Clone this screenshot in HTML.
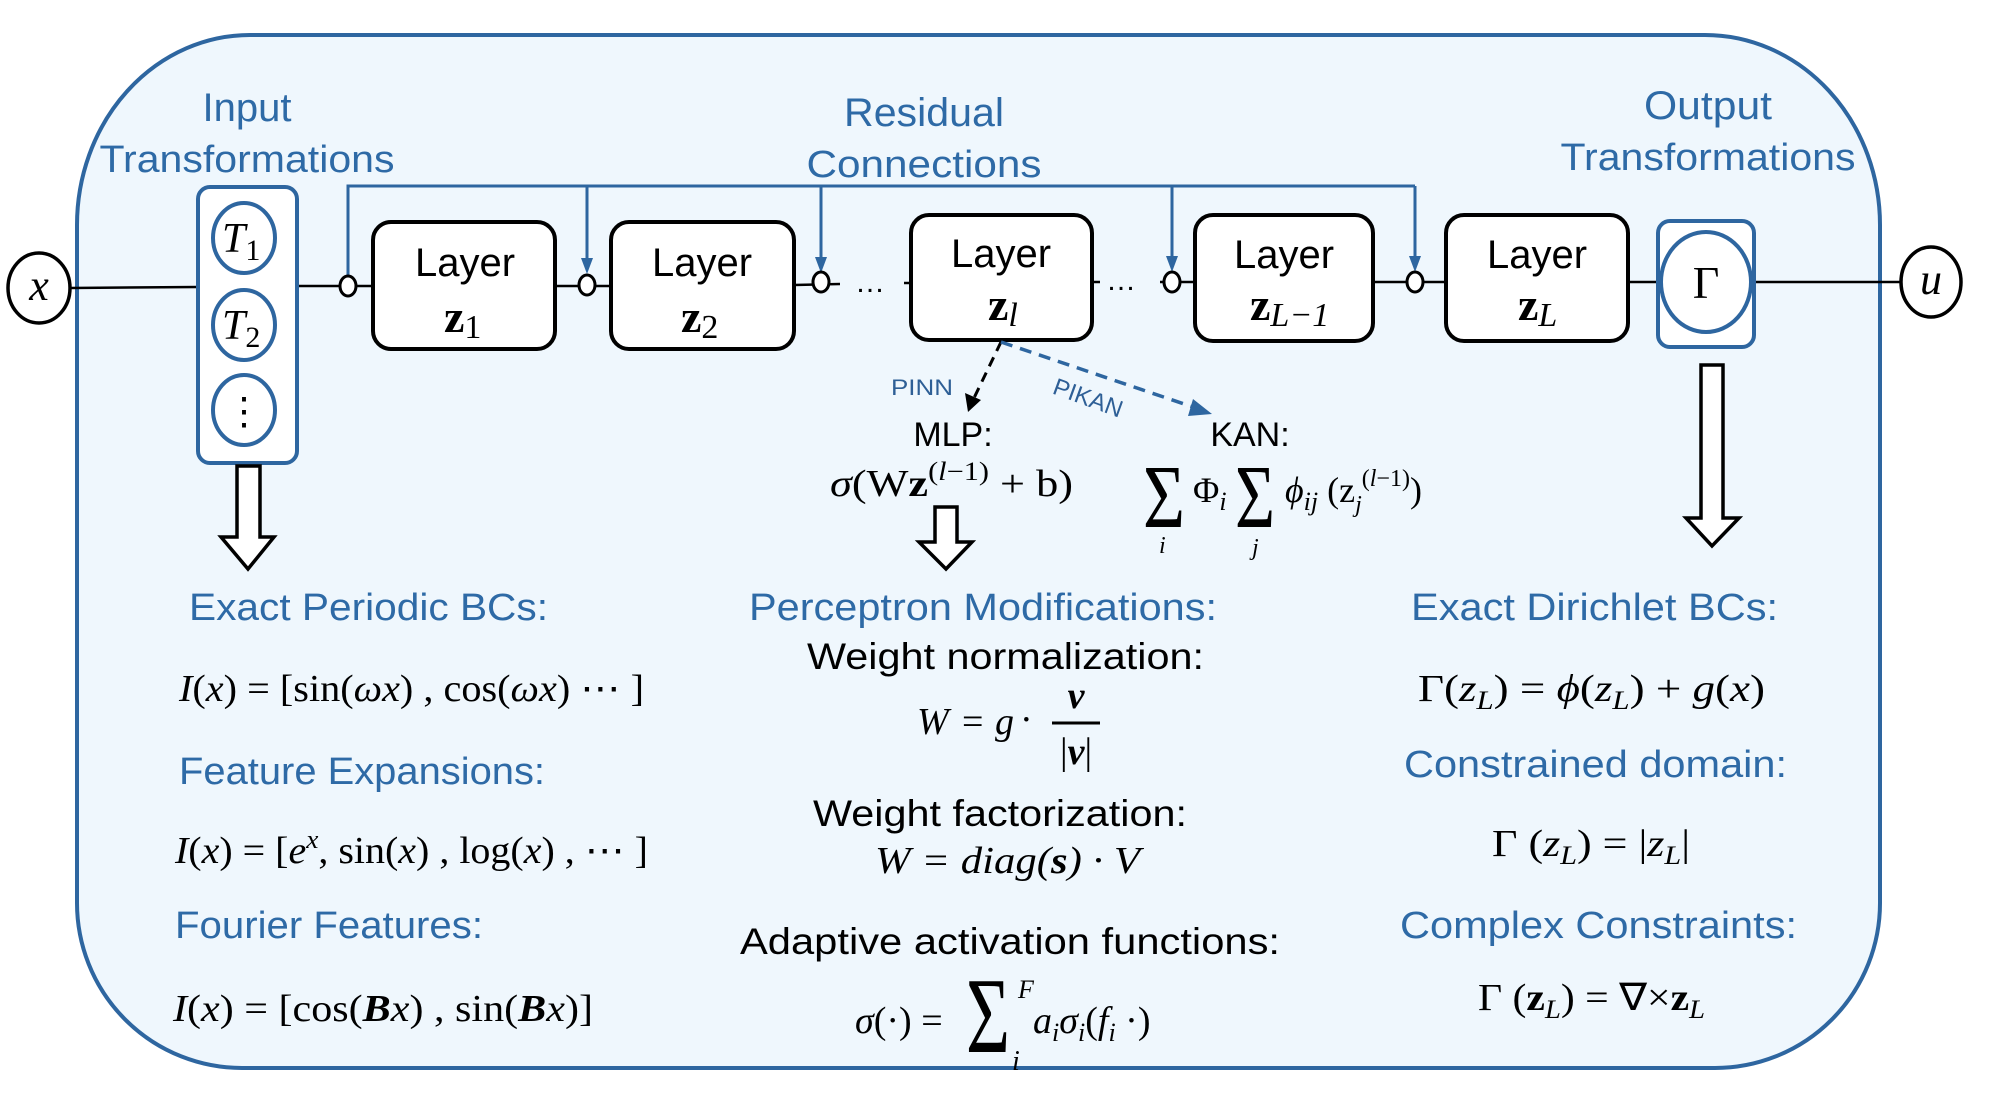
<!DOCTYPE html>
<html><head><meta charset="utf-8"><style>
html,body{margin:0;padding:0;background:#fff;}
svg{display:block;font-size:36px;}
.h{font-family:"Liberation Sans",sans-serif;fill:#2e6aa6;}
.b{font-family:"Liberation Sans",sans-serif;fill:#000;}
.m{font-family:"Liberation Serif",serif;fill:#000;}
.i{font-style:italic;}
</style></head><body>
<svg width="2000" height="1102" viewBox="0 0 2000 1102" xmlns="http://www.w3.org/2000/svg">
<!-- outer box -->
<path d="M250,35 L1705,35 A175,190 0 0 1 1880,225 L1880,903 A165,165 0 0 1 1715,1068 L242,1068 A165,165 0 0 1 77,903 L77,225 A173,190 0 0 1 250,35 Z" fill="#eff7fd" stroke="#2e66a0" stroke-width="4"/>

<!-- main line -->
<g stroke="#000" stroke-width="2.5" fill="none">
<line x1="70" y1="288" x2="198" y2="287"/>
<line x1="297" y1="286" x2="373" y2="286"/>
<line x1="555" y1="286" x2="611" y2="286"/>
<line x1="794" y1="285" x2="840" y2="284"/>
<line x1="904" y1="283" x2="911" y2="283"/>
<line x1="1092" y1="282" x2="1100" y2="282"/>
<line x1="1160" y1="282" x2="1195" y2="282"/>
<line x1="1373" y1="282" x2="1446" y2="282"/>
<line x1="1628" y1="282" x2="1658" y2="282"/>
<line x1="1754" y1="282" x2="1900" y2="282"/>
</g>
<text x="855" y="292" class="b" font-size="30">…</text>
<text x="1106" y="290" class="b" font-size="30">…</text>

<!-- residual -->
<g stroke="#2e66a0" stroke-width="3" fill="none">
<polyline points="348,277 348,186 1415,186"/>
<line x1="587" y1="186" x2="587" y2="262"/>
<line x1="821" y1="186" x2="821" y2="261"/>
<line x1="1172" y1="186" x2="1172" y2="260"/>
<line x1="1415" y1="186" x2="1415" y2="260"/>
</g>
<g fill="#2e66a0">
<path d="M581,258 L593,258 L587,274 Z"/>
<path d="M815,257 L827,257 L821,273 Z"/>
<path d="M1166,256 L1178,256 L1172,272 Z"/>
<path d="M1409,256 L1421,256 L1415,272 Z"/>
</g>
<g fill="#fff" stroke="#000" stroke-width="3">
<ellipse cx="348" cy="286" rx="8" ry="10"/>
<ellipse cx="587" cy="285" rx="8" ry="10"/>
<ellipse cx="821" cy="282" rx="8" ry="10"/>
<ellipse cx="1172" cy="282" rx="8" ry="10"/>
<ellipse cx="1415" cy="282" rx="8" ry="10"/>
</g>

<!-- x and u -->
<ellipse cx="39" cy="288" rx="31" ry="35" fill="#fff" stroke="#000" stroke-width="3.5"/>
<text x="39" y="300" class="m i" text-anchor="middle" font-size="44">x</text>
<ellipse cx="1931" cy="282" rx="30" ry="35" fill="#fff" stroke="#000" stroke-width="3.5"/>
<text x="1931" y="294" class="m i" text-anchor="middle" font-size="44">u</text>

<!-- input transform box -->
<rect x="198" y="187" width="99" height="276" rx="12" fill="#fff" stroke="#2e66a0" stroke-width="4"/>
<g fill="#fff" stroke="#2e66a0" stroke-width="4">
<ellipse cx="244" cy="238" rx="31" ry="35"/>
<ellipse cx="244" cy="325" rx="31" ry="35"/>
<ellipse cx="244" cy="410" rx="31" ry="35"/>
</g>
<text x="222" y="252" class="m i" font-size="42">T<tspan font-style="normal" font-size="30" dy="8">1</tspan></text>
<text x="222" y="339" class="m i" font-size="42">T<tspan font-style="normal" font-size="30" dy="8">2</tspan></text>
<text x="244" y="424" class="m" text-anchor="middle" font-size="38">⋮</text>

<!-- layer boxes -->
<g fill="#fff" stroke="#000" stroke-width="4">
<rect x="373" y="222" width="182" height="127" rx="18"/>
<rect x="611" y="222" width="183" height="127" rx="18"/>
<rect x="911" y="215" width="181" height="125" rx="18"/>
<rect x="1195" y="215" width="178" height="126" rx="18"/>
<rect x="1446" y="215" width="182" height="126" rx="18"/>
</g>
<g class="b" text-anchor="middle" font-size="40">
<text x="465" y="276">Layer</text>
<text x="702" y="276">Layer</text>
<text x="1001" y="267">Layer</text>
<text x="1284" y="268">Layer</text>
<text x="1537" y="268">Layer</text>
</g>
<g class="m" font-weight="bold" font-size="46">
<text x="444" y="332">z<tspan font-weight="normal" font-size="34" dy="6">1</tspan></text>
<text x="681" y="332">z<tspan font-weight="normal" font-size="34" dy="6">2</tspan></text>
<text x="988" y="320">z<tspan font-weight="normal" font-style="italic" font-size="34" dy="6">l</tspan></text>
<text x="1250" y="320">z<tspan font-weight="normal" font-style="italic" font-size="34" dy="6">L−1</tspan></text>
<text x="1518" y="320">z<tspan font-weight="normal" font-style="italic" font-size="34" dy="6">L</tspan></text>
</g>

<!-- gamma -->
<rect x="1658" y="221" width="96" height="126" rx="12" fill="#fff" stroke="#2e66a0" stroke-width="4"/>
<ellipse cx="1706" cy="282" rx="45" ry="50" fill="#fff" stroke="#2e66a0" stroke-width="4"/>
<text x="1706" y="298" class="m" text-anchor="middle" font-size="46">Γ</text>

<!-- top labels -->
<text x="247" y="121" class="h" text-anchor="middle" font-size="40">Input</text>
<text x="247" y="172" class="h" text-anchor="middle" font-size="38" textLength="295" lengthAdjust="spacingAndGlyphs">Transformations</text>
<text x="924" y="126" class="h" text-anchor="middle" font-size="40" textLength="160" lengthAdjust="spacingAndGlyphs">Residual</text>
<text x="924" y="177" class="h" text-anchor="middle" font-size="38" textLength="235" lengthAdjust="spacingAndGlyphs">Connections</text>
<text x="1708" y="119" class="h" text-anchor="middle" font-size="40" textLength="128" lengthAdjust="spacingAndGlyphs">Output</text>
<text x="1708" y="170" class="h" text-anchor="middle" font-size="38" textLength="295" lengthAdjust="spacingAndGlyphs">Transformations</text>

<!-- PINN / PIKAN -->
<line x1="1001" y1="342" x2="974" y2="398" stroke="#000" stroke-width="3" stroke-dasharray="10,7"/>
<path d="M965,393 L981,400 L968,412 Z" fill="#000"/>
<line x1="1001" y1="342" x2="1196" y2="408" stroke="#2e66a0" stroke-width="3.5" stroke-dasharray="12,8"/>
<path d="M1193,399 L1212,414 L1188,416 Z" fill="#2e66a0"/>
<text x="891" y="395" font-family="Liberation Sans,sans-serif" fill="#2e5f96" font-size="22" textLength="62" lengthAdjust="spacingAndGlyphs">PINN</text>
<text x="1088" y="406" font-family="Liberation Sans,sans-serif" fill="#2e5f96" font-size="24" text-anchor="middle" transform="rotate(20 1088 398)">PIKAN</text>

<text x="953" y="446" class="b" text-anchor="middle" font-size="34">MLP:</text>
<text x="1250" y="446" class="b" text-anchor="middle" font-size="34">KAN:</text>
<text x="830" y="496" class="m" font-size="38" textLength="243" lengthAdjust="spacingAndGlyphs"><tspan font-style="italic">σ</tspan>(W<tspan font-weight="bold">z</tspan><tspan font-size="26" dy="-16">(<tspan font-style="italic">l</tspan>−1)</tspan><tspan dy="16"> + b)</tspan></text>
<!-- KAN formula -->
<text x="1143" y="527" class="m" font-size="90" textLength="42" lengthAdjust="spacingAndGlyphs">Σ</text>
<text x="1159" y="553" class="m i" font-size="24">i</text>
<text x="1193" y="502" class="m" font-size="36">Φ<tspan font-style="italic" font-size="26" dy="8">i</tspan></text>
<text x="1235" y="527" class="m" font-size="90" textLength="40" lengthAdjust="spacingAndGlyphs">Σ</text>
<text x="1252" y="555" class="m i" font-size="24">j</text>
<text x="1285" y="502" class="m i" font-size="36">ϕ<tspan font-size="26" dy="8">ij</tspan><tspan font-style="normal" dy="-8"> (z</tspan><tspan font-size="24" dy="10">j</tspan><tspan font-style="normal" font-size="24" dy="-26">(<tspan font-style="italic">l</tspan>−1)</tspan><tspan font-style="normal" font-size="36" dy="16">)</tspan></text>

<!-- down arrows -->
<g fill="#fff" stroke="#000" stroke-width="3.5" stroke-linejoin="miter">
<path d="M237,466 L260,466 L260,537 L274,537 L248,569 L221,537 L237,537 Z"/>
<path d="M935,507 L957,507 L957,542 L972,542 L946,569 L919,542 L935,542 Z"/>
<path d="M1701,365 L1723,365 L1723,518 L1739,518 L1712,546 L1686,518 L1701,518 Z"/>
</g>

<!-- left column -->
<text x="189" y="620" class="h" font-size="38" textLength="359" lengthAdjust="spacingAndGlyphs">Exact  Periodic BCs:</text>
<text x="179" y="701" class="m" font-size="38" textLength="465" lengthAdjust="spacingAndGlyphs"><tspan font-style="italic">I</tspan>(<tspan font-style="italic">x</tspan>) = [sin(<tspan font-style="italic">ωx</tspan>) , cos(<tspan font-style="italic">ωx</tspan>) ⋯ ]</text>
<text x="179" y="784" class="h" font-size="38" textLength="366" lengthAdjust="spacingAndGlyphs">Feature Expansions:</text>
<text x="175" y="863" class="m" font-size="38" textLength="473" lengthAdjust="spacingAndGlyphs"><tspan font-style="italic">I</tspan>(<tspan font-style="italic">x</tspan>) = [<tspan font-style="italic">e<tspan font-size="26" dy="-15">x</tspan></tspan><tspan dy="15">, sin(</tspan><tspan font-style="italic">x</tspan>) , log(<tspan font-style="italic">x</tspan>) , ⋯ ]</text>
<text x="175" y="938" class="h" font-size="38" textLength="308" lengthAdjust="spacingAndGlyphs">Fourier Features:</text>
<text x="173" y="1021" class="m" font-size="38" textLength="420" lengthAdjust="spacingAndGlyphs"><tspan font-style="italic">I</tspan>(<tspan font-style="italic">x</tspan>) = [cos(<tspan font-style="italic" font-weight="bold">B</tspan><tspan font-style="italic">x</tspan>) , sin(<tspan font-style="italic" font-weight="bold">B</tspan><tspan font-style="italic">x</tspan>)]</text>

<!-- middle column -->
<text x="749" y="620" class="h" font-size="38" textLength="468" lengthAdjust="spacingAndGlyphs">Perceptron Modifications:</text>
<text x="807" y="669" class="b" font-size="37" textLength="397" lengthAdjust="spacingAndGlyphs">Weight normalization:</text>
<text x="917" y="734" class="m i" font-size="38">W</text>
<text x="962" y="734" class="m" font-size="38">=</text>
<text x="995" y="734" class="m i" font-size="38">g</text>
<text x="1020" y="732" class="m" font-size="38">·</text>
<text x="1076" y="708" class="m i" font-weight="bold" font-size="38" text-anchor="middle">v</text>
<line x1="1052" y1="723" x2="1100" y2="723" stroke="#000" stroke-width="3"/>
<text x="1076" y="764" class="m" font-size="38" text-anchor="middle">|<tspan font-style="italic" font-weight="bold">v</tspan>|</text>
<text x="813" y="826" class="b" font-size="37" textLength="374" lengthAdjust="spacingAndGlyphs">Weight factorization:</text>
<text x="875" y="873" class="m i" font-size="38" textLength="265" lengthAdjust="spacingAndGlyphs">W = diag(<tspan font-weight="bold">s</tspan>) · V</text>
<text x="740" y="954" class="b" font-size="37" textLength="540" lengthAdjust="spacingAndGlyphs">Adaptive activation functions:</text>
<text x="855" y="1033" class="m" font-size="38"><tspan font-style="italic">σ</tspan>(·) =</text>
<text x="966" y="1052" class="m" font-size="108" textLength="44" lengthAdjust="spacingAndGlyphs">Σ</text>
<text x="1018" y="998" class="m i" font-size="26">F</text>
<text x="1012" y="1070" class="m i" font-size="28">i</text>
<text x="1033" y="1033" class="m i" font-size="38">a<tspan font-size="26" dy="8">i</tspan><tspan dy="-8">σ</tspan><tspan font-size="26" dy="8">i</tspan><tspan font-style="normal" dy="-8">(</tspan>f<tspan font-size="26" dy="8">i</tspan><tspan font-style="normal" dy="-8"> ·)</tspan></text>

<!-- right column -->
<text x="1411" y="620" class="h" font-size="38" textLength="367" lengthAdjust="spacingAndGlyphs">Exact  Dirichlet BCs:</text>
<text x="1418" y="701" class="m" font-size="38" textLength="347" lengthAdjust="spacingAndGlyphs">Γ(<tspan font-style="italic">z<tspan font-size="26" dy="8">L</tspan></tspan><tspan dy="-8">) = </tspan><tspan font-style="italic">ϕ</tspan>(<tspan font-style="italic">z<tspan font-size="26" dy="8">L</tspan></tspan><tspan dy="-8">) + </tspan><tspan font-style="italic">g</tspan>(<tspan font-style="italic">x</tspan>)</text>
<text x="1404" y="777" class="h" font-size="38" textLength="383" lengthAdjust="spacingAndGlyphs">Constrained domain:</text>
<text x="1492" y="856" class="m" font-size="38" textLength="198" lengthAdjust="spacingAndGlyphs">Γ (<tspan font-style="italic">z<tspan font-size="26" dy="8">L</tspan></tspan><tspan dy="-8">) = |</tspan><tspan font-style="italic">z<tspan font-size="26" dy="8">L</tspan></tspan><tspan dy="-8">|</tspan></text>
<text x="1400" y="938" class="h" font-size="38" textLength="397" lengthAdjust="spacingAndGlyphs">Complex Constraints:</text>
<text x="1478" y="1010" class="m" font-size="38" textLength="227" lengthAdjust="spacingAndGlyphs">Γ (<tspan font-weight="bold">z</tspan><tspan font-style="italic" font-size="26" dy="8">L</tspan><tspan dy="-8">) = ∇×</tspan><tspan font-weight="bold">z</tspan><tspan font-style="italic" font-size="26" dy="8">L</tspan></text>
</svg>
</body></html>
